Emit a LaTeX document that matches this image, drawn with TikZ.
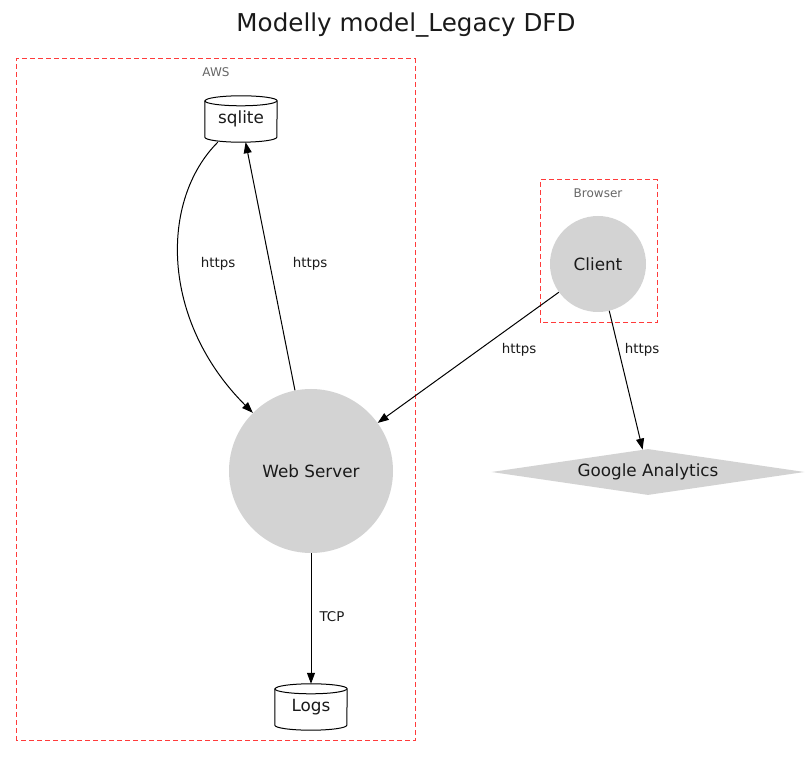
\documentclass[tikz,border=0pt]{standalone}
\usepackage{fontspec}
\setmainfont{DejaVu Sans}
\usetikzlibrary{arrows.meta,shapes.geometric,calc,backgrounds}
\definecolor{nodegray}{HTML}{D3D3D3}
\definecolor{txt}{HTML}{1A1A1A}
\definecolor{cluster}{HTML}{FF3B3B}
\definecolor{clabel}{HTML}{666666}
\tikzset{
  cluster/.style={draw=cluster, line width=1pt, dash pattern=on 5pt off 3pt},
  clusterlabel/.style={text=clabel, font=\fontsize{12}{14}\selectfont, inner sep=0pt},
  dbnode/.style={rectangle, minimum width=72pt, minimum height=46pt, inner sep=0pt, text=txt, font=\fontsize{16.8}{20}\selectfont},
  procnode/.style={circle, fill=nodegray, inner sep=0pt, text=txt, font=\fontsize{16.8}{20}\selectfont},
  extnode/.style={diamond, aspect=6.8, fill=nodegray, inner sep=0pt, minimum width=313pt, minimum height=46pt, text=txt, font=\fontsize{16.8}{20}\selectfont},
  flow/.style={draw=black, line width=1pt, -{Triangle[length=11pt,width=8pt]}},
  flowlabel/.style={text=txt, font=\fontsize{13.4}{16}\selectfont, inner sep=0pt},
}
\newcommand\dbcyl[1]{%
  \begin{pgfonlayer}{background}
  \draw[fill=white, line width=1pt] ($(#1.north west)+(0,-5)$) -- ($(#1.south west)+(0,5)$)
     arc[start angle=180, end angle=360, x radius=36, y radius=5]
     -- ($(#1.north east)+(0,-5)$)
     arc[start angle=0, end angle=180, x radius=36, y radius=5] -- cycle;
  \draw[line width=1pt] ($(#1.north west)+(0,-5)$) arc[start angle=180, end angle=360, x radius=36, y radius=5];
  \end{pgfonlayer}}
\begin{document}
\begin{tikzpicture}[x=1pt,y=1pt]
\useasboundingbox (0,0) rectangle (809,758);
% title
\node[text=txt, font=\fontsize{24.6}{28}\selectfont, inner sep=0pt] (title) at (406,733) {Modelly model\_Legacy DFD};
% clusters
\draw[cluster] (16,17) rectangle (415,699);
\node[clusterlabel] (awslabel) at (216,686) {AWS};
\draw[cluster] (540,435) rectangle (657,578);
\node[clusterlabel] (browserlabel) at (598,565) {Browser};
% nodes
\node[dbnode] (sq) at (241,639) {sqlite};
\dbcyl{sq}
\node[dbnode] (logs) at (311,51) {Logs};
\dbcyl{logs}
\node[procnode, minimum size=164pt] (ws) at (311,287) {Web Server};
\node[procnode, minimum size=96pt] (cl) at (598,494) {Client};
\node[extnode] (ga) at (648,286) {Google Analytics};
% flows
\draw[flow] (sq) .. controls (160,558) and (160,438) .. (ws);
\draw[flow] (ws) -- (sq);
\draw[flow] (cl) -- (ws);
\draw[flow] (cl) -- (ga);
\draw[flow] (ws) -- (logs);
% labels
\node[flowlabel] (l1) at (218,494) {https};
\node[flowlabel] (l2) at (310,494) {https};
\node[flowlabel] (l3) at (519,408) {https};
\node[flowlabel] (l4) at (642,408) {https};
\node[flowlabel] (l5) at (332,141) {TCP};
\end{tikzpicture}
\end{document}
